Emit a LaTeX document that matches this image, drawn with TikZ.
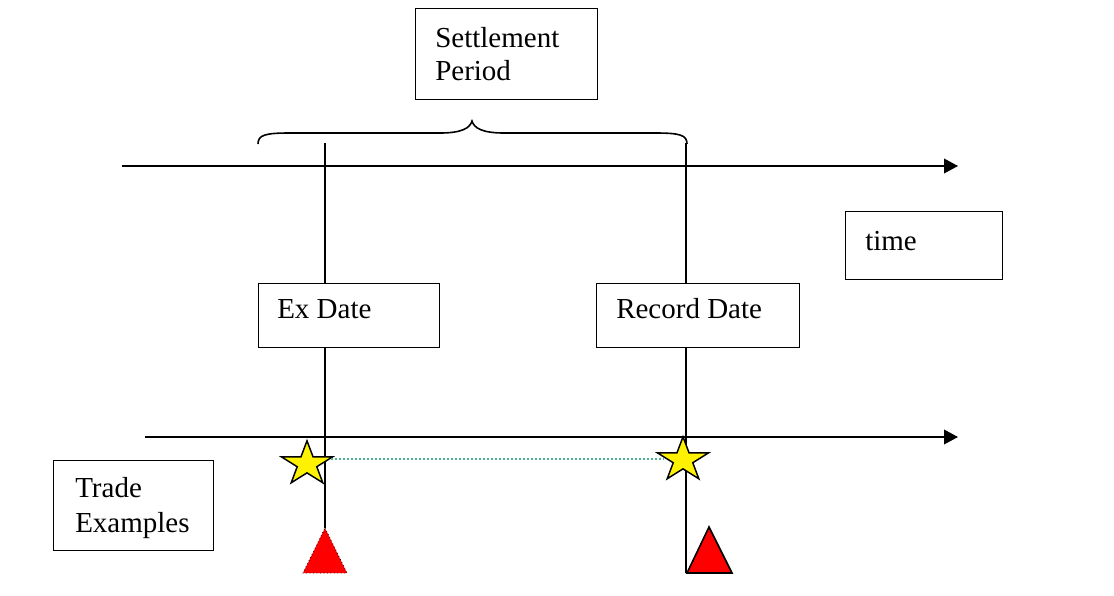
\documentclass[tikz,border=0pt]{standalone}
\usepackage{fontspec}
\setmainfont{Liberation Serif}
\usetikzlibrary{arrows.meta,shapes.geometric,calc}
\definecolor{dotgreen}{HTML}{4DB38A}
\begin{document}
\begin{tikzpicture}[x=0.75pt,y=-0.75pt,
  line/.style={line width=1.2pt},
  arr/.style={line width=1.2pt,-{Triangle[length=10.5pt,width=11pt]}},
  box/.style={draw,line width=1.1pt,anchor=north west,inner sep=0pt},
  lbl/.style={anchor=base west,inner sep=0pt,font=\fontsize{21.75}{24.75}\selectfont},
  starnode/.style={star,star points=5,star point ratio=2.618,draw,line width=1.1pt,fill=yellow,minimum size=34.8pt,inner sep=0pt,xscale=1.16,transform shape},
  dotline/.style={dotgreen,line width=1pt,dash pattern=on 1.5pt off 1.5pt}]
\useasboundingbox (0,0) rectangle (1114,596);
% boxes
\node[box,minimum width=136.5pt,minimum height=68.25pt] (sp) at (415,8) {};
\node[lbl] (sp1) at (435,47) {Settlement};
\node[lbl] (sp2) at (435,80) {Period};
\node[box,minimum width=117.75pt,minimum height=51pt] (tm) at (845,211) {};
\node[lbl] (tmt) at (865,250) {time};
% brace
\coordinate (bl) at (258,144);
\coordinate (br) at (687,144);
\coordinate (bt) at (472,121);
\draw[line] (bl) .. controls (258,135) and (265,133) .. (290,133) -- (440,133)
  .. controls (462,133) and (470,128) .. (bt)
  .. controls (474,128) and (482,133) .. (504,133) -- (655,133)
  .. controls (680,133) and (687,135) .. (br);
% time axes
\coordinate (a1s) at (122,166);
\coordinate (a1e) at (958,166);
\draw[arr] (a1s) -- (a1e);
\coordinate (a2s) at (145,437);
\coordinate (a2e) at (958,437);
\draw[arr] (a2s) -- (a2e);
% verticals
\coordinate (v1t) at (325,143);
\coordinate (v1b) at (325,528);
\coordinate (v2t) at (686,143);
\coordinate (v2b) at (686,573);
\draw[line] (v1t) -- (v1b);
\draw[line] (v2t) -- (v2b);
% date boxes
\node[box,fill=white,minimum width=135.75pt,minimum height=48pt] (ex) at (258,283) {};
\node[lbl] (ext) at (277,318) {Ex Date};
\node[box,fill=white,minimum width=152.25pt,minimum height=48pt] (rd) at (596,283) {};
\node[lbl] (rdt) at (616,318) {Record Date};
% trade examples
\node[box,minimum width=120pt,minimum height=67.5pt] (te) at (53,460) {};
\node[lbl] (te1) at (75,497) {Trade};
\node[lbl] (te2) at (75,532) {Examples};
% stars and dotted connector
\node[starnode] (st1) at (307,464) {};
\node[starnode] (st2) at (683,460) {};
\coordinate (d1) at (331,459);
\coordinate (d2) at (664,459);
\draw[dotline] (d1) -- (d2);
% triangles
\coordinate (t1a) at (325,528);
\filldraw[fill=red,draw=black,line width=0.6pt,dotted] (t1a) -- (347,573) -- (303,573) -- cycle;
\coordinate (t2a) at (709,527);
\filldraw[fill=red,draw=black,line width=1.2pt] (t2a) -- (732,573) -- (687,573) -- cycle;
\end{tikzpicture}
\end{document}
